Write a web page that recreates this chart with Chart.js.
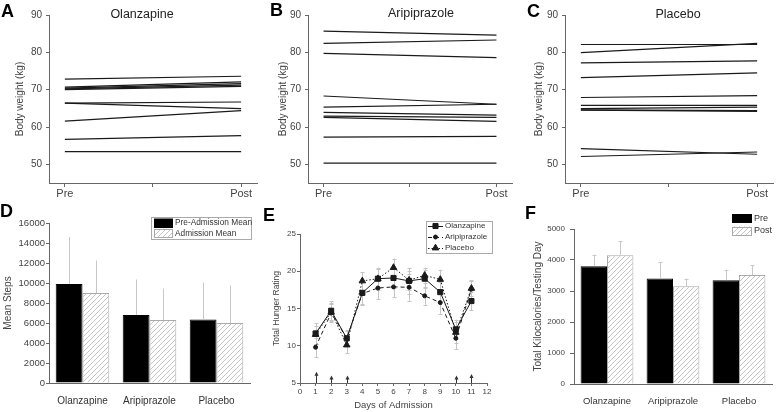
<!DOCTYPE html>
<html>
<head>
<meta charset="utf-8">
<script src="https://cdn.jsdelivr.net/npm/chart.js@4.4.0/dist/chart.umd.min.js"></script>
<style>
body{margin:0;background:#fff;width:777px;height:412px;overflow:hidden;position:relative}
canvas{position:absolute}
</style>
</head>
<body>
<canvas id="cA" width="260" height="200" style="left:0;top:0"></canvas>
<canvas id="cB" width="258" height="200" style="left:259px;top:0"></canvas>
<canvas id="cC" width="261" height="200" style="left:516px;top:0"></canvas>
<canvas id="cD" width="260" height="212" style="left:0;top:200px"></canvas>
<canvas id="cE" width="257" height="212" style="left:260px;top:200px"></canvas>
<canvas id="cF" width="261" height="212" style="left:516px;top:200px"></canvas>
<script>
// body weight, one value per subject (A-C)
var olzPre  = [72.8, 70.7, 70.4, 70.2, 70.0, 66.4, 66.4, 61.6, 56.7, 53.4];
var olzPost = [73.6, 72.1, 71.6, 71.2, 70.9, 66.7, 64.9, 64.4, 57.7, 53.4];
var ariPre  = [85.7, 82.4, 79.7, 68.3, 65.3, 63.9, 62.9, 62.6, 57.3, 50.3];
var ariPost = [84.6, 83.3, 78.6, 66.1, 66.1, 63.2, 62.6, 61.5, 57.5, 50.3];
var plaPre  = [82.1, 79.9, 77.2, 73.2, 67.9, 65.8, 64.9, 64.6, 64.5, 54.2, 52.1];
var plaPost = [82.1, 82.4, 77.7, 74.5, 68.4, 65.8, 65.3, 64.4, 64.2, 52.7, 53.3];
var weightTicks = [50, 60, 70, 80, 90];
var timeLabels = ["Pre", "Post"];

// mean steps (D)
var groups = ["Olanzapine", "Aripiprazole", "Placebo"];
var stepsPre = [9900, 6800, 6350];
var stepsPreErr = [4700, 3550, 3700];
var stepsAdm = [9000, 6300, 6000];
var stepsAdmErr = [3250, 3150, 3750];

// hunger ratings (E)
var days = [1, 2, 3, 4, 5, 6, 7, 8, 9, 10, 11];
var hungerOlz = [11.65, 14.7, 11.0, 17.1, 19.0, 19.1, 18.7, 19.0, 17.2, 12.2, 16.0];
var hungerAri = [9.8, 14.4, 11.0, 17.0, 17.75, 17.9, 17.85, 16.7, 15.8, 11.0, 17.6];
var hungerPla = [11.5, 14.5, 10.1, 18.7, 19.0, 20.5, 18.8, 19.45, 18.9, 11.8, 17.7];
var errOlz = [1.35, 1.3, 1.0, 1.5, 1.5, 1.3, 1.7, 1.2, 1.3, 1.3, 1.2];
var errAri = [1.3, 1.2, 1.1, 1.5, 1.5, 1.4, 1.8, 1.2, 1.5, 1.5, 1.2];
var errPla = [1.2, 1.2, 1.1, 1.2, 1.3, 1.2, 1.3, 1.0, 1.3, 1.4, 1.0];
var arrowDays = [1, 2, 3, 10, 11];
var arrowTops = [6.5, 6.0, 6.0, 6.0, 6.2];

// kilocalories (F)
var kcalPre = [3800, 3400, 3350];
var kcalPreErr = [370, 530, 330];
var kcalPost = [4150, 3150, 3520];
var kcalPostErr = [450, 250, 310];

var FONT = '"Liberation Sans", Arial, sans-serif';
Chart.defaults.font.family = FONT;
Chart.defaults.color = '#444';
Chart.defaults.animation = false;
Chart.defaults.plugins.legend.display = false;
Chart.defaults.plugins.tooltip.enabled = false;
var AX = '#666';
var INK = '#1a1a1a';

function hatch() {
  var c = document.createElement('canvas');
  c.width = 5; c.height = 5;
  var g = c.getContext('2d');
  g.fillStyle = '#fff'; g.fillRect(0, 0, 5, 5);
  g.strokeStyle = '#c4c4c4'; g.lineWidth = 1;
  g.beginPath();
  g.moveTo(0, 5); g.lineTo(5, 0);
  g.moveTo(-1, 1); g.lineTo(1, -1);
  g.moveTo(4, 6); g.lineTo(6, 4);
  g.stroke();
  return g.createPattern(c, 'repeat');
}
var hatchFill = hatch();
var plain = function(v) { return String(v); };

// letter + title
var panelText = {
  id: 'panelText',
  afterDraw: function(chart, args, o) {
    var ctx = chart.ctx;
    ctx.save();
    ctx.fillStyle = '#000';
    ctx.textBaseline = 'top';
    ctx.font = 'bold 18px ' + FONT;
    ctx.fillText(o.letter, o.lx, o.ly);
    if (o.title) {
      ctx.font = '12.5px ' + FONT;
      ctx.textAlign = 'center';
      ctx.textBaseline = 'middle';
      ctx.fillStyle = '#222';
      ctx.fillText(o.title, o.tx, o.ty);
    }
    ctx.restore();
  }
};

function drawErr(chart, o) {
  var ctx = chart.ctx, ys = chart.scales.y;
  ctx.save();
  ctx.strokeStyle = o.color;
  ctx.lineWidth = 1;
  chart.data.datasets.forEach(function(ds, i) {
    if (!ds.errors) return;
    chart.getDatasetMeta(i).data.forEach(function(el, j) {
      var v = ds.data[j];
      if (typeof v === 'object') v = v.y;
      var e = ds.errors[j];
      var x = Math.round(el.x) + 0.5;
      var hi = ys.getPixelForValue(v + e);
      var lo = ys.getPixelForValue(o.both ? v - e : v);
      ctx.beginPath();
      ctx.moveTo(x, lo); ctx.lineTo(x, hi);
      if (o.cap) {
        ctx.moveTo(x - o.cap, Math.round(hi) + 0.5); ctx.lineTo(x + o.cap, Math.round(hi) + 0.5);
        if (o.both) { ctx.moveTo(x - o.cap, Math.round(lo) + 0.5); ctx.lineTo(x + o.cap, Math.round(lo) + 0.5); }
      }
      ctx.stroke();
    });
  });
  ctx.restore();
}
var errBars = {
  id: 'errBars',
  beforeDatasetsDraw: function(chart, args, o) { if (o.layer === 'before') drawErr(chart, o); },
  afterDatasetsDraw: function(chart, args, o) { if (o.layer !== 'before') drawErr(chart, o); }
};

var boxLegend = {
  id: 'boxLegend',
  afterDraw: function(chart, args, o) {
    var ctx = chart.ctx;
    ctx.save();
    if (o.border) {
      ctx.strokeStyle = '#aaa'; ctx.lineWidth = 1;
      ctx.strokeRect(o.x + 0.5, o.y + 0.5, o.w, o.h);
    }
    ctx.font = o.size + 'px ' + FONT;
    ctx.textBaseline = 'middle';
    chart.data.datasets.forEach(function(ds, i) {
      var y = o.rows[i];
      if (o.kind === 'bar') {
        ctx.fillStyle = ds.backgroundColor;
        ctx.fillRect(o.sx, y - o.sh / 2, o.sw, o.sh);
        ctx.strokeStyle = ds.borderColor; ctx.lineWidth = 1;
        ctx.strokeRect(o.sx + 0.5, Math.round(y - o.sh / 2) + 0.5, o.sw - 1, o.sh - 1);
      } else {
        ctx.strokeStyle = ds.borderColor; ctx.lineWidth = 1;
        ctx.setLineDash(ds.borderDash || []);
        ctx.beginPath(); ctx.moveTo(o.sx, y + 0.5); ctx.lineTo(o.sx + o.sw, y + 0.5); ctx.stroke();
        ctx.setLineDash([]);
        ctx.fillStyle = ds.pointBackgroundColor;
        Chart.helpers.drawPoint(ctx, { pointStyle: ds.pointStyle, radius: ds.pointRadius, rotation: 0, borderWidth: 1 }, o.sx + o.sw / 2, y);
      }
      ctx.fillStyle = '#333';
      ctx.fillText(ds.label, o.tx, y);
    });
    ctx.restore();
  }
};

var arrows = {
  id: 'arrows',
  afterDatasetsDraw: function(chart) {
    var xs = chart.scales.x, ys = chart.scales.y, ctx = chart.ctx;
    ctx.save();
    ctx.strokeStyle = '#333'; ctx.fillStyle = '#333'; ctx.lineWidth = 1;
    arrowDays.forEach(function(d, i) {
      var x = Math.round(xs.getPixelForValue(d)) + 0.5;
      var y0 = ys.getPixelForValue(5), y1 = ys.getPixelForValue(arrowTops[i]);
      ctx.beginPath(); ctx.moveTo(x, y0); ctx.lineTo(x, y1 + 2); ctx.stroke();
      ctx.beginPath(); ctx.moveTo(x, y1); ctx.lineTo(x - 2, y1 + 4); ctx.lineTo(x + 2, y1 + 4); ctx.closePath(); ctx.fill();
    });
    ctx.restore();
  }
};

function axGrid(len) {
  return { display: true, drawOnChartArea: false, drawTicks: true, tickLength: len, color: AX };
}

function weightChart(id, pre, post, txt, padRight, titlePad) {
  var ds = pre.map(function(p, i) {
    return { data: [{ x: 0, y: p }, { x: 1, y: post[i] }], borderColor: INK, borderWidth: 1.2, pointRadius: 0 };
  });
  return new Chart(document.getElementById(id), {
    type: 'line',
    data: { datasets: ds },
    options: {
      responsive: false,
      devicePixelRatio: 1,
      layout: { padding: { top: 15, right: padRight, left: 0, bottom: 0 } },
      scales: {
        x: {
          type: 'linear', min: -0.09, max: 1.09,
          afterBuildTicks: function(s) { s.ticks = [{ value: 0 }, { value: 0.5 }, { value: 1 }]; },
          ticks: {
            font: { size: 11 }, padding: 0, maxRotation: 0, autoSkip: false,
            callback: function(v) { return v === 0 ? timeLabels[0] : v === 1 ? timeLabels[1] : ''; }
          },
          grid: axGrid(4),
          border: { color: AX },
          afterFit: function(s) { s.height = 17; }
        },
        y: {
          min: 45, max: 90,
          afterBuildTicks: function(s) { s.ticks = weightTicks.map(function(v) { return { value: v }; }); },
          ticks: { font: { size: 10 }, padding: 4 },
          grid: axGrid(3),
          border: { color: AX },
          title: { display: true, text: 'Body weight (kg)', font: { size: 10 }, color: '#444', padding: { top: titlePad, bottom: 0 } },
          afterFit: function(s) { s.width = 49; }
        }
      },
      plugins: { panelText: txt }
    },
    plugins: [panelText]
  });
}

weightChart('cA', olzPre, olzPost, { letter: 'A', lx: 1, ly: 3, title: 'Olanzapine', tx: 142, ty: 15 }, 3, 14);
weightChart('cB', ariPre, ariPost, { letter: 'B', lx: 11, ly: 2, title: 'Aripiprazole', tx: 162, ty: 14 }, 5, 18);
weightChart('cC', plaPre, plaPost, { letter: 'C', lx: 11, ly: 3, title: 'Placebo', tx: 162, ty: 15 }, 4, 17);

// D - steps
new Chart(document.getElementById('cD'), {
  type: 'bar',
  data: {
    labels: groups,
    datasets: [
      { label: 'Pre-Admission Mean', data: stepsPre, errors: stepsPreErr, backgroundColor: '#000', borderColor: '#000', borderWidth: 1 },
      { label: 'Admission Mean', data: stepsAdm, errors: stepsAdmErr, backgroundColor: hatchFill, borderColor: '#aaa', borderWidth: 1 }
    ]
  },
  options: {
    responsive: false,
    devicePixelRatio: 1,
    layout: { padding: { top: 23, right: 10, left: 0, bottom: 0 } },
    datasets: { bar: { categoryPercentage: 0.8, barPercentage: 1 } },
    scales: {
      x: {
        grid: { display: false }, border: { color: AX },
        ticks: { font: { size: 10 }, padding: 4, color: '#333' },
        afterFit: function(s) { s.height = 29; }
      },
      y: {
        min: 0, max: 16000,
        ticks: { stepSize: 2000, font: { size: 9.5 }, padding: 1, callback: plain },
        grid: axGrid(3), border: { color: AX },
        title: { display: true, text: 'Mean Steps', font: { size: 10 }, color: '#444', padding: { top: 2, bottom: 0 } },
        afterFit: function(s) { s.width = 49; }
      }
    },
    plugins: {
      panelText: { letter: 'D', lx: 0, ly: 3 },
      errBars: { color: '#c8c8c8', cap: 0 },
      boxLegend: { kind: 'bar', border: true, x: 151, y: 17, w: 100, h: 22, rows: [23, 33.5], sx: 154, sw: 19, sh: 9, tx: 175, size: 8.3 }
    }
  },
  plugins: [panelText, errBars, boxLegend]
});

// E - hunger
function pts(vals) { return days.map(function(d, i) { return { x: d, y: vals[i] }; }); }
new Chart(document.getElementById('cE'), {
  type: 'line',
  data: {
    datasets: [
      { label: 'Olanzapine', data: pts(hungerOlz), errors: errOlz, borderColor: INK, borderWidth: 1,
        pointStyle: 'rect', pointRadius: 3.6, pointBackgroundColor: INK, pointBorderColor: INK },
      { label: 'Aripiprazole', data: pts(hungerAri), errors: errAri, borderColor: INK, borderWidth: 1, borderDash: [4, 3],
        pointStyle: 'circle', pointRadius: 2, pointBackgroundColor: INK, pointBorderColor: INK },
      { label: 'Placebo', data: pts(hungerPla), errors: errPla, borderColor: INK, borderWidth: 1, borderDash: [1.5, 2],
        pointStyle: 'triangle', pointRadius: 3.8, pointBackgroundColor: INK, pointBorderColor: INK }
    ]
  },
  options: {
    responsive: false,
    devicePixelRatio: 1,
    layout: { padding: { top: 34, right: 30, left: 0, bottom: 0 } },
    scales: {
      x: {
        type: 'linear', min: 0, max: 12,
        ticks: { stepSize: 1, font: { size: 8 }, padding: 1, maxRotation: 0, autoSkip: false },
        grid: axGrid(3), border: { color: AX },
        title: { display: true, text: 'Days of Admission', font: { size: 9.5 }, color: '#444', padding: { top: 0, bottom: 1 } },
        afterFit: function(s) { s.height = 29; }
      },
      y: {
        min: 5, max: 25,
        ticks: { stepSize: 5, font: { size: 8 }, padding: 1 },
        grid: axGrid(3), border: { color: AX },
        title: { display: true, text: 'Total Hunger Rating', font: { size: 8.5 }, color: '#444', padding: { top: 12, bottom: 0 } },
        afterFit: function(s) { s.width = 40; }
      }
    },
    plugins: {
      panelText: { letter: 'E', lx: 3, ly: 7 },
      errBars: { layer: 'before', color: '#c4c4c4', cap: 2, both: true },
      boxLegend: { kind: 'line', border: true, x: 166, y: 21, w: 66, h: 32, rows: [26, 37, 48], sx: 168, sw: 15, tx: 185, size: 8 }
    }
  },
  plugins: [panelText, errBars, arrows, boxLegend]
});

// F - kilocalories
new Chart(document.getElementById('cF'), {
  type: 'bar',
  data: {
    labels: groups,
    datasets: [
      { label: 'Pre', data: kcalPre, errors: kcalPreErr, backgroundColor: '#000', borderColor: '#000', borderWidth: 1 },
      { label: 'Post', data: kcalPost, errors: kcalPostErr, backgroundColor: hatchFill, borderColor: '#aaa', borderWidth: 1 }
    ]
  },
  options: {
    responsive: false,
    devicePixelRatio: 1,
    layout: { padding: { top: 29, right: 5, left: 0, bottom: 0 } },
    datasets: { bar: { categoryPercentage: 0.8, barPercentage: 1 } },
    scales: {
      x: {
        grid: { display: false }, border: { color: AX },
        ticks: { font: { size: 9.5 }, padding: 4, color: '#333' },
        afterFit: function(s) { s.height = 28; }
      },
      y: {
        min: 0, max: 5000,
        ticks: { stepSize: 1000, font: { size: 8 }, padding: 5, callback: plain },
        grid: axGrid(4), border: { color: AX },
        title: { display: true, text: 'Total Kilocalories/Testing Day', font: { size: 10 }, color: '#444', padding: { top: 16, bottom: 0 } },
        afterFit: function(s) { s.width = 58; }
      }
    },
    plugins: {
      panelText: { letter: 'F', lx: 9, ly: 5 },
      errBars: { color: '#c8c8c8', cap: 2 },
      boxLegend: { kind: 'bar', border: false, x: 215, y: 14, w: 42, h: 22, rows: [18.5, 31], sx: 216, sw: 20, sh: 9, tx: 238, size: 9 }
    }
  },
  plugins: [panelText, errBars, boxLegend]
});
</script>
</body>
</html>
